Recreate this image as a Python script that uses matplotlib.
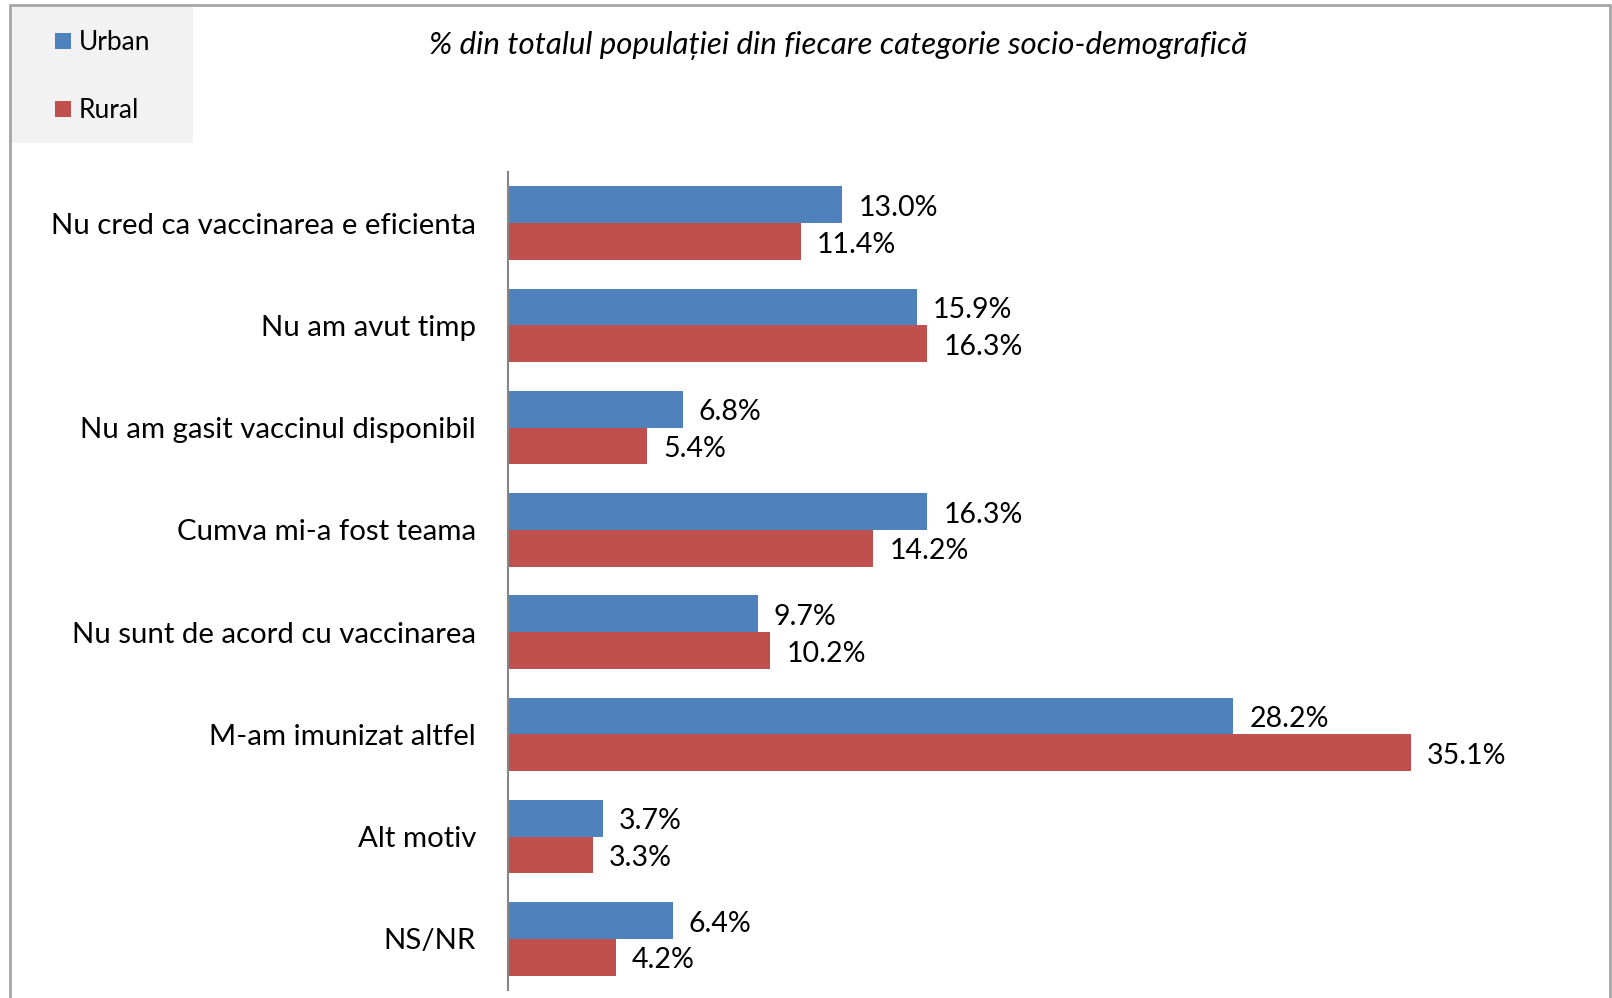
import matplotlib.pyplot as plt
from matplotlib.patches import Rectangle
import numpy as np

categories = [
    "Nu cred ca vaccinarea e eficienta",
    "Nu am avut timp",
    "Nu am gasit vaccinul disponibil",
    "Cumva mi-a fost teama",
    "Nu sunt de acord cu vaccinarea",
    "M-am imunizat altfel",
    "Alt motiv",
    "NS/NR",
]
urban = [13.0, 15.9, 6.8, 16.3, 9.7, 28.2, 3.7, 6.4]
rural = [11.4, 16.3, 5.4, 14.2, 10.2, 35.1, 3.3, 4.2]

blue = "#4f81bd"
red = "#c0504d"
font = "Lato"

W, H = 1612, 998
fig = plt.figure(figsize=(W / 100, H / 100), dpi=100)

# outer chart frame
fig.patches.append(Rectangle((10 / W, -0.01), (1610 - 10) / W, 1 - 5 / H + 0.01,
                             transform=fig.transFigure, fill=False,
                             edgecolor="#a6a6a6", linewidth=2))
# legend background
fig.patches.append(Rectangle((12 / W, 1 - 143 / H), (193 - 12) / W, (143 - 7) / H,
                             transform=fig.transFigure, facecolor="#f2f2f2",
                             edgecolor="none"))

ax = fig.add_axes([508 / W, 1 - 990 / H, (1537 - 508) / W, (990 - 172) / H])

y = np.arange(len(categories))
h = 0.36
ax.barh(y - h / 2, urban, height=h, color=blue)
ax.barh(y + h / 2, rural, height=h, color=red)

for yi, u, r in zip(y, urban, rural):
    ax.text(u + 0.62, yi - h / 2 + 0.03, f"{u:.1f}%", va="center", ha="left",
            fontsize=20.5, family=font)
    ax.text(r + 0.62, yi + h / 2 + 0.03, f"{r:.1f}%", va="center", ha="left",
            fontsize=20.5, family=font)

ax.set_xlim(0, 40)
ax.set_ylim(7.5, -0.5)
ax.set_yticks(y)
ax.set_yticklabels(categories, fontsize=21.2, family=font)
ax.tick_params(axis="y", length=0, pad=23)
ax.set_xticks([])
for s in ["top", "right", "bottom"]:
    ax.spines[s].set_visible(False)
ax.spines["left"].set_color("#868686")
ax.spines["left"].set_linewidth(1.5)

fig.text(838 / W, 1 - 46 / H,
         "% din totalul populației din fiecare categorie socio-demografică",
         ha="center", va="center", fontsize=22.5, style="italic", family=font)

# legend
for i, (name, col) in enumerate([("Urban", blue), ("Rural", red)]):
    yc = 41 + i * 68
    fig.patches.append(Rectangle((55 / W, 1 - (yc + 8) / H), 16 / W, 16 / H,
                                 transform=fig.transFigure, facecolor=col,
                                 edgecolor="none"))
    fig.text(79 / W, 1 - (yc + 1) / H, name, ha="left", va="center",
             fontsize=19, family=font)

fig.savefig("out.png", dpi=100)
